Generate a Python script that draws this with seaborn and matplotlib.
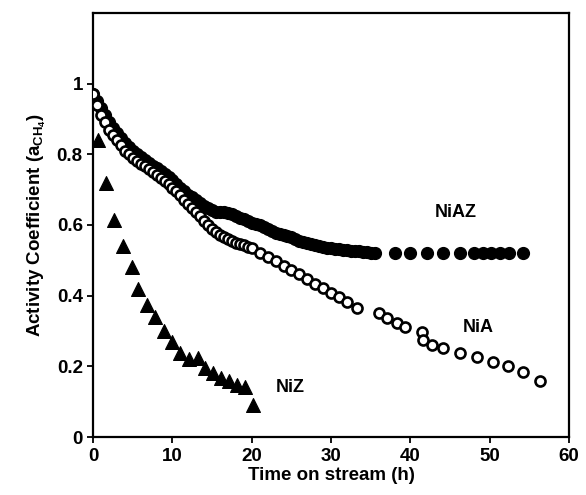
import matplotlib
matplotlib.use("Agg")
import matplotlib.pyplot as plt
import seaborn as sns

#%% Data

# NiAZ (filled circles)
niaz_t = [0, 0.5, 1, 1.5, 2, 2.5, 3, 3.5, 4, 4.5, 5, 5.5, 6, 6.5, 7, 7.5, 8, 8.5, 9, 9.5,
          10, 10.5, 11, 11.5, 12, 12.5, 13, 13.5, 14, 14.5, 15, 15.5, 16, 16.5, 17, 17.5,
          18, 18.5, 19, 19.5, 20, 20.5, 21, 21.5, 22, 22.5, 23, 23.5, 24, 24.5, 25, 25.5,
          26, 26.5, 27, 27.5, 28, 28.5, 29, 29.5, 30, 30.5, 31, 31.5, 32, 32.5, 33, 33.5,
          34, 34.5, 35, 35.5,
          38.1, 40.0, 42.1, 44.1, 46.2, 48.0, 49.1, 50.2, 51.3, 52.4, 54.2]
niaz_v = [0.97, 0.95, 0.93, 0.91, 0.89, 0.875, 0.86, 0.845, 0.832, 0.82, 0.81, 0.80, 0.792,
          0.784, 0.776, 0.768, 0.76, 0.752, 0.744, 0.736, 0.728, 0.716, 0.705, 0.695, 0.686,
          0.678, 0.67, 0.662, 0.655, 0.648, 0.642, 0.638, 0.636, 0.636, 0.634, 0.63, 0.626,
          0.621, 0.616, 0.611, 0.606, 0.603, 0.60, 0.595, 0.59, 0.584, 0.578, 0.574, 0.571,
          0.568, 0.565, 0.56, 0.556, 0.552, 0.549, 0.546, 0.543, 0.54, 0.538, 0.536, 0.534,
          0.532, 0.531, 0.53, 0.528, 0.527, 0.526, 0.525, 0.524, 0.523, 0.522, 0.522,
          0.522, 0.522, 0.522, 0.522, 0.522, 0.522, 0.522, 0.522, 0.522, 0.522, 0.522]

# NiA (open circles)
nia_t = [0, 0.5, 1, 1.5, 2, 2.5, 3, 3.5, 4, 4.5, 5, 5.5, 6, 6.5, 7, 7.5, 8, 8.5, 9, 9.5,
         10, 10.5, 11, 11.5, 12, 12.5, 13, 13.5, 14, 14.5, 15, 15.5, 16, 16.5, 17, 17.5,
         18, 18.5, 19, 19.5, 20, 21, 22, 23, 24, 25, 26, 27, 28, 29, 30, 31, 32, 33.3,
         36.0, 37.0, 38.3, 39.3, 41.5, 41.6, 42.7, 44.1, 46.3, 48.4, 50.4, 52.3, 54.2, 56.4]
nia_v = [0.97, 0.94, 0.91, 0.89, 0.87, 0.855, 0.84, 0.825, 0.81, 0.80, 0.79, 0.78, 0.773,
         0.766, 0.758, 0.75, 0.742, 0.733, 0.724, 0.715, 0.705, 0.695, 0.684, 0.672, 0.66,
         0.648, 0.636, 0.624, 0.612, 0.60, 0.59, 0.58, 0.572, 0.566, 0.56, 0.555, 0.55,
         0.546, 0.542, 0.538, 0.534, 0.522, 0.51, 0.497, 0.485, 0.472, 0.46, 0.447, 0.434,
         0.421, 0.408, 0.395, 0.382, 0.365,
         0.35, 0.337, 0.323, 0.31, 0.297, 0.275, 0.26, 0.252, 0.237, 0.227, 0.212, 0.20,
         0.185, 0.16]

# NiZ (filled triangles)
niz_t = [0.6, 1.6, 2.6, 3.8, 4.9, 5.7, 6.8, 7.8, 8.9, 10.0, 11.0, 12.1, 13.2, 14.1, 15.1,
         16.1, 17.1, 18.1, 19.1, 20.1]
niz_v = [0.84, 0.72, 0.615, 0.54, 0.48, 0.42, 0.375, 0.34, 0.30, 0.27, 0.237, 0.22, 0.225,
         0.195, 0.18, 0.168, 0.158, 0.147, 0.142, 0.09]

x_ticks = [0, 10, 20, 30, 40, 50, 60]
y_ticks = [0, 0.2, 0.4, 0.6, 0.8, 1]
y_ticklabels = ['0', '0.2', '0.4', '0.6', '0.8', '1']

#%% Plot

sns.set_style("ticks")
plt.rcParams['font.family'] = ['Liberation Sans', 'DejaVu Sans']
plt.rcParams['font.weight'] = 'bold'
plt.rcParams['text.color'] = 'black'
plt.rcParams['axes.labelcolor'] = 'black'
plt.rcParams['mathtext.fontset'] = 'custom'
plt.rcParams['mathtext.rm'] = 'Liberation Sans:bold'
plt.rcParams['mathtext.it'] = 'Liberation Sans:bold'

fig = plt.figure(figsize=(5.86, 4.95), dpi=100)
ax = fig.add_axes([0.159, 0.117, 0.812, 0.857])

sns.scatterplot(x=niaz_t, y=niaz_v, marker='o', s=72, color='black',
                edgecolor='black', linewidth=1.0, ax=ax, zorder=2)
sns.scatterplot(x=nia_t, y=nia_v, marker='o', s=52, color='white',
                edgecolor='black', linewidth=1.9, ax=ax, zorder=3)
sns.scatterplot(x=niz_t, y=niz_v, marker='^', s=100, color='black',
                edgecolor='black', linewidth=0.8, ax=ax, zorder=3)

ax.text(45.7, 0.635, 'NiAZ', fontsize=13, fontweight='bold', color='black',
        ha='center', va='center')
ax.text(48.6, 0.31, 'NiA', fontsize=13, fontweight='bold', color='black',
        ha='center', va='center')
ax.text(24.8, 0.14, 'NiZ', fontsize=13, fontweight='bold', color='black',
        ha='center', va='center')

ax.set_xlim(0, 60)
ax.set_ylim(0, 1.2)
ax.set_xticks(x_ticks)
ax.set_yticks(y_ticks)
ax.set_yticklabels(y_ticklabels)
ax.tick_params(labelsize=13.5, direction='out', length=4, width=1.3,
               colors='black', labelcolor='black')
for side in ['left', 'right', 'top', 'bottom']:
    ax.spines[side].set_visible(True)
    ax.spines[side].set_linewidth(1.6)
    ax.spines[side].set_color('black')

ax.set_xlabel("Time on stream (h)", fontsize=13.5, fontweight='bold',
              color='black', labelpad=2)
ax.set_ylabel(r"Activity Coefficient (a$_{\mathregular{CH}_{\mathregular{4}}}$)",
              fontsize=13.5, fontweight='bold', color='black', labelpad=6)

fig.savefig("out.png", dpi=100)
